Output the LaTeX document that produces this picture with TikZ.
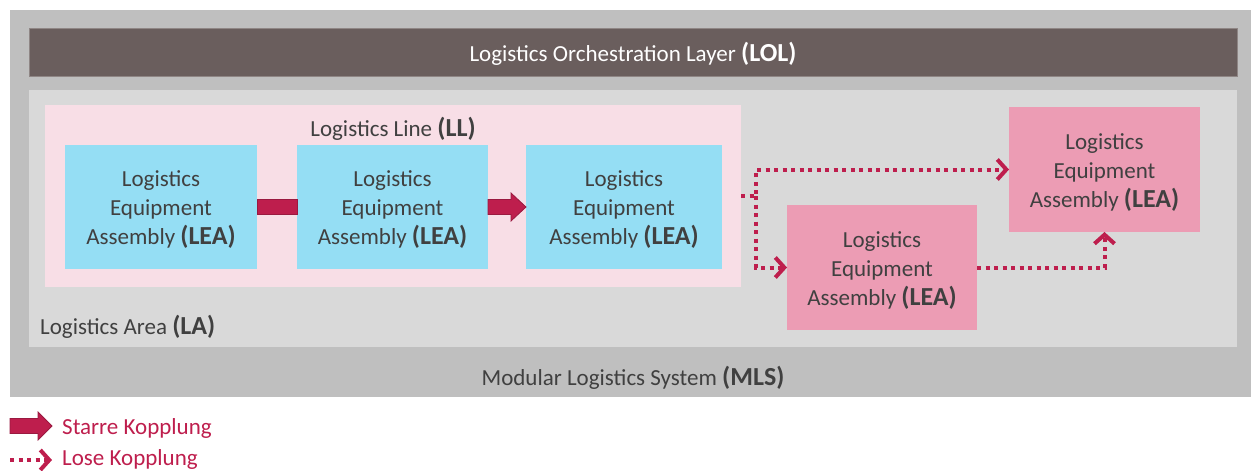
\documentclass[tikz,border=0pt]{standalone}
\usepackage{fontspec}
\setmainfont{Carlito}
\usetikzlibrary{arrows.meta,calc}

\definecolor{mlsgrey}{HTML}{BFBFBF}
\definecolor{lolbrown}{HTML}{6A5E5D}
\definecolor{lagrey}{HTML}{D9D9D9}
\definecolor{llpink}{HTML}{F8DEE6}
\definecolor{leablue}{HTML}{95DEF4}
\definecolor{leapink}{HTML}{EC9CB4}
\definecolor{crimson}{HTML}{BE1E4D}
\definecolor{crimsondark}{HTML}{9A1940}
\definecolor{txt}{HTML}{404040}

\newcommand{\reg}{\fontsize{23}{29}\selectfont}
\newcommand{\abbr}[1]{\textbf{\fontsize{26}{29}\selectfont #1}}
\newcommand{\leatext}{\rule{0pt}{21pt}Logistics\\Equipment\\Assembly \abbr{(LEA)}}

\tikzset{
  area/.style={inner sep=0pt, outer sep=0pt},
  lea/.style={area, minimum width=191pt, minimum height=125pt,
    text=txt, align=center, font=\reg},
  label/.style={inner sep=0pt, text=txt, font=\reg},
  loose/.style={crimson, line width=4pt, dash pattern=on 4pt off 4.5pt,
    -{Straight Barb[length=9pt,width=20pt]}},
  rigid/.style={fill=crimson, draw=crimsondark, line width=0.8pt}
}

\begin{document}
\begin{tikzpicture}[x=1pt,y=-1pt]
\useasboundingbox (0,0) rectangle (1251,471);

% nested containers
\node[area, fill=mlsgrey, minimum width=1241pt, minimum height=387pt] (mls) at (630.5,203.5) {};
\node[area, fill=lolbrown, draw=lolbrown!75!white, line width=0.8pt,
      minimum width=1208pt, minimum height=48pt] (lol) at (633,52) {};
\node[area, fill=lagrey, minimum width=1208pt, minimum height=257pt] (la) at (633,218.5) {};
\node[area, fill=llpink, minimum width=696pt, minimum height=182pt] (ll) at (393,196) {};

% container labels
\node[inner sep=0pt, text=white, font=\reg] (lolt) at (633,54) {Logistics Orchestration Layer \abbr{(LOL)}};
\node[label] (llt) at (393,129) {Logistics Line \abbr{(LL)}};
\node[label, anchor=west] (lat) at (40,327) {Logistics Area \abbr{(LA)}};
\node[label] (mlst) at (633,378) {Modular Logistics System \abbr{(MLS)}};

% equipment assemblies inside the line
\node[lea, fill=leablue, minimum width=192pt, minimum height=124pt] (b1) at (161,207) {\leatext};
\node[lea, fill=leablue, minimum width=191pt, minimum height=124pt] (b2) at (392.5,207) {\leatext};
\node[lea, fill=leablue, minimum width=196pt, minimum height=124pt] (b3) at (624,207) {\leatext};

% loosely coupled assemblies
\node[lea, fill=leapink, minimum width=190pt] (lb) at (882,267.5) {\leatext};
\node[lea, fill=leapink] (lt) at (1104.5,169.5) {\leatext};

% rigid coupling b1 - b2
\fill[rigid] ($(b1.east)+(0,-7.5)$) rectangle ($(b2.west)+(0,7.5)$);
% rigid coupling b2 -> b3
\filldraw[rigid] ($(b2.east)+(0,-7.5)$) -- ($(b3.west)+(-15,-7.5)$) -- ($(b3.west)+(-15,-14)$)
  -- (b3.west) -- ($(b3.west)+(-15,14)$) -- ($(b3.west)+(-15,7.5)$)
  -- ($(b2.east)+(0,7.5)$) -- cycle;

% loose couplings
\coordinate (split) at ($(ll.east)+(15,0)$);
\draw[loose] (ll.east) -- (split) |- (lt.west);
\draw[loose] (split) |- (lb.west);
\draw[loose] (lb.east) -| (lt.south);

% legend
\coordinate (g1s) at (10,426);
\coordinate (g1e) at (52,426);
\filldraw[rigid] ($(g1s)+(0,-7.5)$) -- ($(g1e)+(-14,-7.5)$) -- ($(g1e)+(-14,-14)$)
  -- (g1e) -- ($(g1e)+(-14,14)$) -- ($(g1e)+(-14,7.5)$) -- ($(g1s)+(0,7.5)$) -- cycle;
\node[inner sep=0pt, anchor=west, text=crimson, font=\reg] (g1t) at (62,428) {Starre Kopplung};

\coordinate (g2s) at (10,460);
\coordinate (g2e) at (52,460);
\draw[loose] (g2s) -- (g2e);
\node[inner sep=0pt, anchor=west, text=crimson, font=\reg] (g2t) at (62,459) {Lose Kopplung};
\end{tikzpicture}
\end{document}
